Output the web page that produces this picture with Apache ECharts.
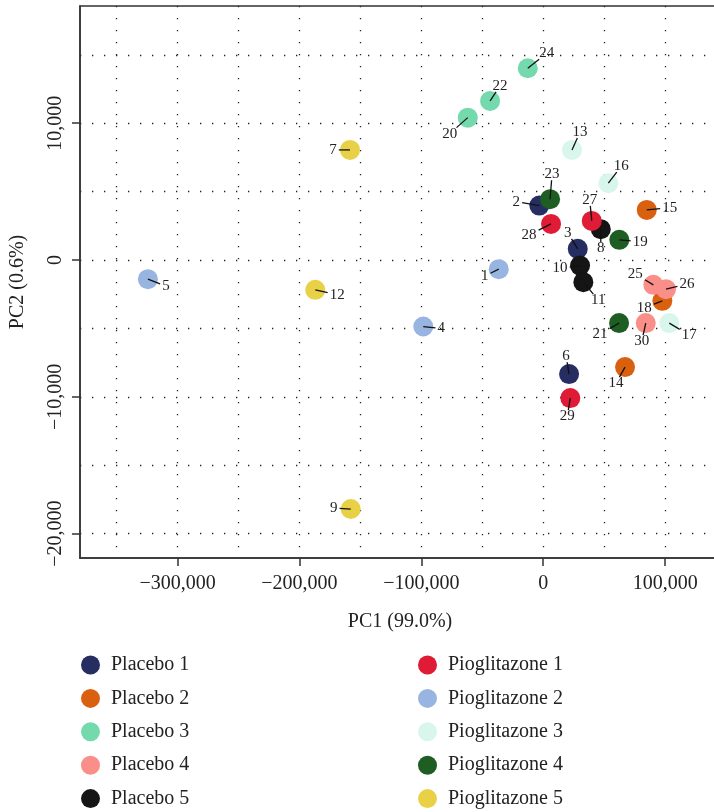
<!DOCTYPE html>
<html>
<head>
<meta charset="utf-8">
<title>PCA</title>
<script src="https://cdn.jsdelivr.net/npm/echarts@6/dist/echarts.min.js"></script>
<style>
	html, body { margin: 0; padding: 0; background: #fff; }
	#chart { width: 714px; height: 812px; }
</style>
</head>
<body>
<div id="chart"></div>
<script>
	// sample numbers and their PC scores
	var sampleIds = [1, 2, 3, 4, 5, 6, 7, 8, 9, 10, 11, 12, 13, 14, 15, 16, 17, 18, 19, 20, 21, 22, 23, 24, 25, 26, 27, 28, 29, 30]
	var pc1 = [-36500, -3200, 28300, -98400, -324300, 21200, -158500, 47200, -157900, 30200,
		32900, -187000, 23600, 67100, 84900, 53400, 103400, 97700, 62400, -61900,
		62200, -43600, 5600, -12700, 90300, 100700, 39800, 6400, 22200, 84100]
	var pc2 = [-665, 3981, 818, -4858, -1395, -8335, 8050, 2257, -18196, -402,
		-1614, -2177, 8050, -7823, 3667, 5617, -4609, -2980, 1476, 10409,
		-4609, 11629, 4449, 14018, -1812, -2126, 2863, 2644, -10088, -4609]
	// index into groupNames for every sample
	var sampleGroup = [6, 0, 0, 6, 6, 0, 9, 4, 9, 4,
		4, 9, 7, 1, 1, 7, 7, 1, 8, 2,
		8, 2, 8, 2, 3, 3, 5, 5, 5, 3]
	var groupNames = ['Placebo 1', 'Placebo 2', 'Placebo 3', 'Placebo 4', 'Placebo 5',
		'Pioglitazone 1', 'Pioglitazone 2', 'Pioglitazone 3', 'Pioglitazone 4', 'Pioglitazone 5']
	var xTicks = [-300000, -200000, -100000, 0, 100000]
	var yTicks = [-20000, -10000, 0, 10000]

	// styling
	var groupColors = ['#262d61', '#d9600f', '#74d9ad', '#fa8e88', '#151515',
		'#e01b35', '#98b4e0', '#d8f6ec', '#1e5e22', '#e8d146']
	// where each number label sits relative to its point (px)
	var labelOffset = [[-14, 7], [-23, -4], [-10, -16], [18, 2], [18, 7], [-3, -18], [-17, 0], [0, 19], [-17, -1], [-20, 3],
		[15, 18], [22, 5], [8, -18], [-9, 16], [23, -2], [13, -17], [20, 12], [-18, 7], [21, 2], [-18, 16],
		[-19, 11], [10, -15], [2, -25], [19, -15], [-18, -11], [21, -5], [-2, -21], [-22, 11], [-3, 18], [-4, 18]]

	var serif = '"Liberation Serif", "Times New Roman", serif'
	var dotted = { type: [1.3, 10.7], color: '#222', width: 1.3 }

	function fmt(v) {
		var s = Math.abs(v).toLocaleString('en-US')
		return v < 0 ? '\u2212' + s : s
	}

	var series = []
	for (var g = 0; g < groupNames.length; g++) {
		var pts = []
		for (var i = 0; i < sampleIds.length; i++) {
			if (sampleGroup[i] === g) pts.push([pc1[i], pc2[i]])
		}
		series.push({
			name: groupNames[g],
			type: 'scatter',
			symbol: 'circle',
			symbolSize: 20,
			itemStyle: { color: groupColors[g], opacity: 1 },
			emphasis: { disabled: true },
			data: pts
		})
	}

	// leader lines and sample numbers
	var labelData = []
	for (var k = 0; k < sampleIds.length; k++) labelData.push([pc1[k], pc2[k]])
	series.push({
		type: 'custom',
		z: 10,
		silent: true,
		data: labelData,
		renderItem: function (params, api) {
			var i = params.dataIndex
			var c = api.coord([api.value(0), api.value(1)])
			var off = labelOffset[i]
			var txt = String(sampleIds[i])
			var len = Math.sqrt(off[0] * off[0] + off[1] * off[1])
			var ux = off[0] / len, uy = off[1] / len
			var hw = txt.length * 3.8 + 2, hh = 6
			var t = Math.min(ux !== 0 ? hw / Math.abs(ux) : 99, uy !== 0 ? hh / Math.abs(uy) : 99)
			var ex = off[0] - ux * t, ey = off[1] - uy * t
			return {
				type: 'group',
				children: [{
					type: 'line',
					shape: { x1: c[0], y1: c[1], x2: c[0] + ex, y2: c[1] + ey },
					style: { stroke: '#111', lineWidth: 1.3 }
				}, {
					type: 'text',
					x: c[0] + off[0],
					y: c[1] + off[1],
					style: {
						text: txt,
						fontFamily: serif,
						fontSize: 15,
						fill: '#222',
						align: 'center',
						verticalAlign: 'middle'
					}
				}]
			}
		}
	})

	var legendBase = {
		orient: 'vertical',
		top: 655,
		height: 300,
		padding: 0,
		itemWidth: 19,
		itemHeight: 19,
		itemGap: 13.4,
		icon: 'circle',
		selectedMode: false,
		textStyle: { fontFamily: serif, fontSize: 20, lineHeight: 19, color: '#222', padding: [0, 0, 0, 6] }
	}

	var option = {
		animation: false,
		backgroundColor: '#fff',
		grid: {
			left: 80,
			top: 6,
			width: 640,
			height: 552,
			outerBoundsMode: 'none',
			show: true,
			borderColor: '#333',
			borderWidth: 1.5
		},
		legend: [
			Object.assign({}, legendBase, { left: 81, data: groupNames.slice(0, 5) }),
			Object.assign({}, legendBase, { left: 418, data: groupNames.slice(5) })
		],
		xAxis: {
			type: 'value',
			min: -380000,
			max: 145000,
			name: 'PC1 (99.0%)',
			nameLocation: 'middle',
			nameGap: 54,
			nameTextStyle: { fontFamily: serif, fontSize: 20, color: '#222' },
			axisLine: { show: true, onZero: false, lineStyle: { color: '#333', width: 1.5 } },
			axisTick: { show: true, length: 8, customValues: xTicks, lineStyle: { color: '#333', width: 1.5 } },
			axisLabel: {
				customValues: xTicks,
				formatter: fmt,
				fontFamily: serif,
				fontSize: 20,
				color: '#222',
				margin: 16
			},
			splitLine: { show: true, lineStyle: dotted },
			minorTick: { show: false, splitNumber: 2 },
			minorSplitLine: { show: true, lineStyle: dotted }
		},
		yAxis: {
			type: 'value',
			min: -21775,
			max: 18568,
			name: 'PC2 (0.6%)',
			nameLocation: 'middle',
			nameGap: 52,
			nameTextStyle: { fontFamily: serif, fontSize: 20, color: '#222' },
			axisLine: { show: true, onZero: false, lineStyle: { color: '#333', width: 1.5 } },
			axisTick: { show: true, length: 8, customValues: yTicks, lineStyle: { color: '#333', width: 1.5 } },
			axisLabel: {
				customValues: yTicks,
				formatter: fmt,
				rotate: 90,
				fontFamily: serif,
				fontSize: 20,
				color: '#222',
				margin: 14
			},
			splitLine: { show: true, lineStyle: dotted },
			minorTick: { show: false, splitNumber: 2 },
			minorSplitLine: { show: true, lineStyle: dotted }
		},
		series: series
	}

	var chart = echarts.init(document.getElementById('chart'))
	chart.setOption(option)
</script>
</body>
</html>
